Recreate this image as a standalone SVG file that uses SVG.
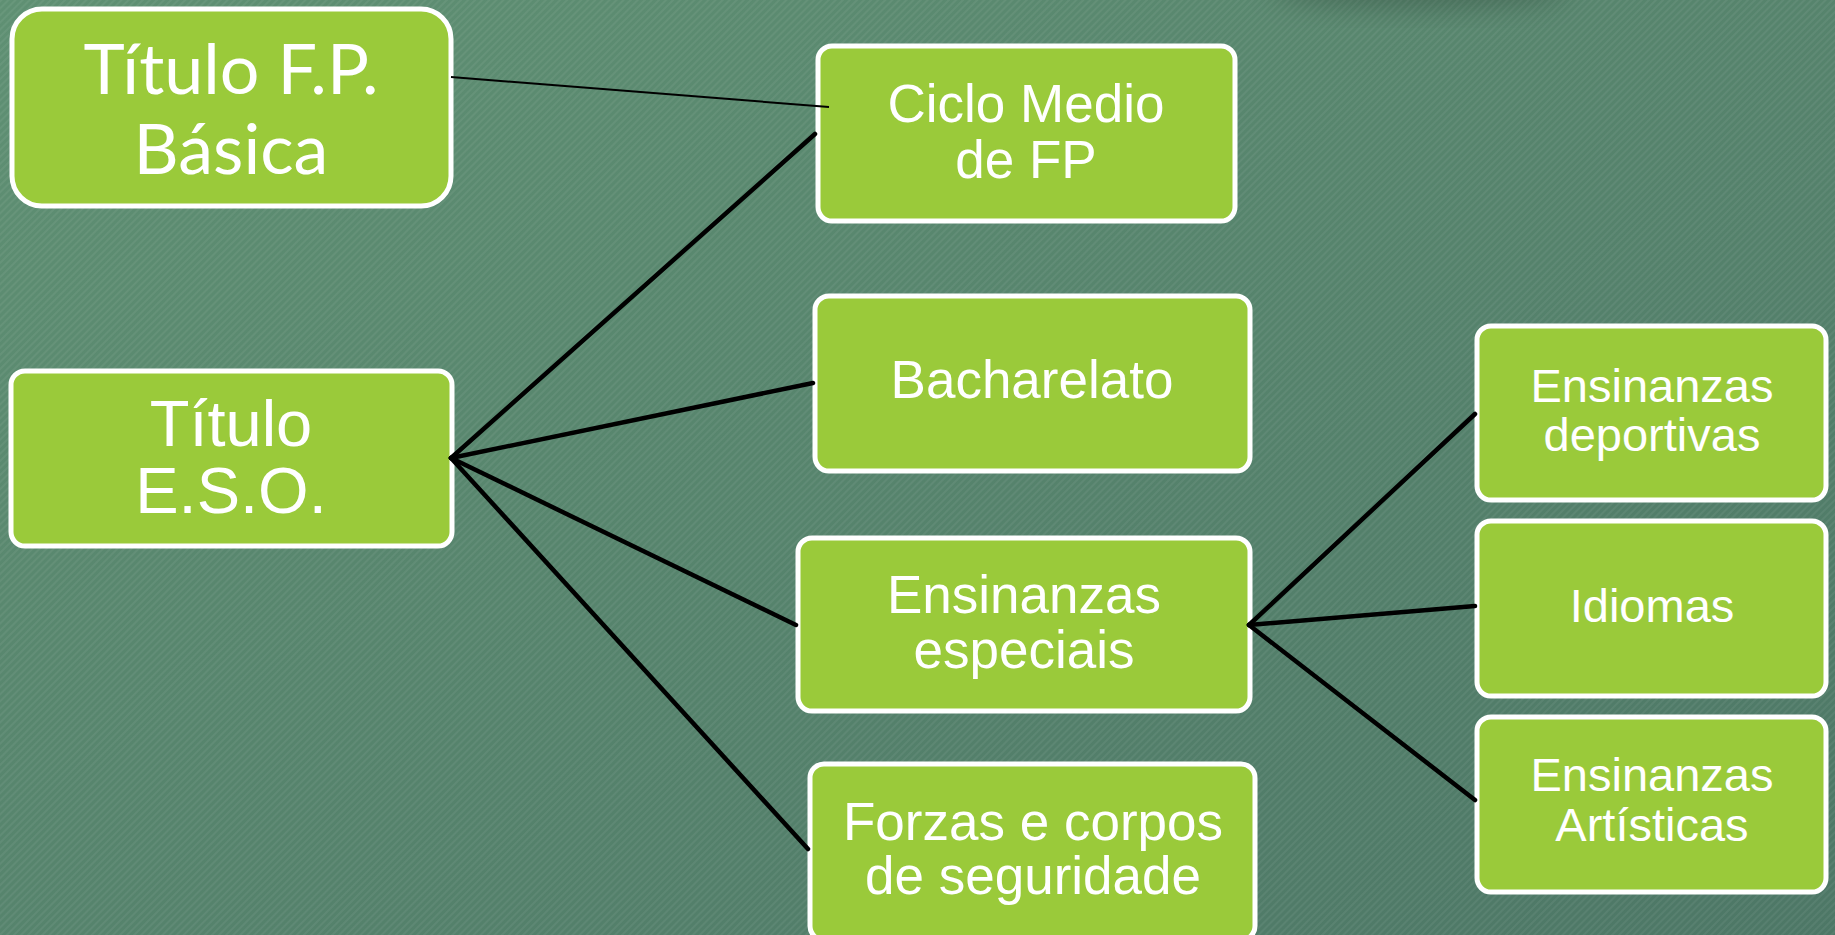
<svg xmlns="http://www.w3.org/2000/svg" width="1835" height="935" viewBox="0 0 1835 935">
<defs>
<linearGradient id="bg" x1="0" y1="0" x2="1" y2="1">
<stop offset="0" stop-color="#5f9073"/>
<stop offset="1" stop-color="#4d7766"/>
</linearGradient>
<pattern id="stripes" width="5" height="5" patternUnits="userSpaceOnUse" patternTransform="rotate(45)">
<rect x="0" y="0" width="2" height="5" fill="#ffffff" fill-opacity="0.06"/>
</pattern>
<filter id="blur" x="-50%" y="-50%" width="200%" height="200%">
<feGaussianBlur stdDeviation="14"/>
</filter>
<style>
.box{fill:#9aca3a;stroke:#ffffff;stroke-width:5}
.t{fill:#ffffff;font-family:"Liberation Sans",Arial,sans-serif;text-anchor:middle}
.ta{fill:#ffffff;font-family:Lato,"Open Sans",sans-serif;font-weight:400;text-anchor:middle}
.c{stroke:#000000;stroke-width:4.5;fill:none;stroke-linecap:round}
.c2{stroke:#000000;stroke-width:2;fill:none}
</style>
</defs>
<rect x="0" y="0" width="1835" height="935" fill="url(#bg)"/>
<rect x="0" y="0" width="1835" height="935" fill="url(#stripes)"/>
<ellipse cx="1420" cy="-12" rx="150" ry="20" fill="#000000" fill-opacity="0.2" filter="url(#blur)"/>

<g id="node-fp-basica">
<rect class="box" x="12" y="9" width="439" height="197" rx="30" ry="30"/>
<text class="ta" x="231" y="94" font-size="70">Título F.P.</text>
<text class="ta" x="231" y="174" font-size="70">Básica</text>
</g>
<g id="node-eso">
<rect class="box" x="11" y="371" width="441" height="175" rx="14" ry="14"/>
<text class="t" x="231" y="446" font-size="65">Título</text>
<text class="t" x="231" y="513" font-size="65">E.S.O.</text>
</g>
<g id="node-ciclo-medio">
<rect class="box" x="818" y="46" width="417" height="175" rx="14" ry="14"/>
<text class="t" x="1026" y="122" font-size="53">Ciclo Medio</text>
<text class="t" x="1026" y="178" font-size="53">de FP</text>
</g>
<g id="node-bacharelato">
<rect class="box" x="815" y="296" width="435" height="175" rx="14" ry="14"/>
<text class="t" x="1032" y="398" font-size="53">Bacharelato</text>
</g>
<g id="node-especiais">
<rect class="box" x="798" y="538" width="452" height="173" rx="14" ry="14"/>
<text class="t" x="1024" y="613" font-size="53">Ensinanzas</text>
<text class="t" x="1024" y="668" font-size="53">especiais</text>
</g>
<g id="node-forzas">
<rect class="box" x="810" y="764" width="445" height="176" rx="14" ry="14"/>
<text class="t" x="1033" y="840" font-size="53">Forzas e corpos</text>
<text class="t" x="1033" y="894" font-size="53">de seguridade</text>
</g>
<g id="node-deportivas">
<rect class="box" x="1477" y="326" width="349" height="174" rx="14" ry="14"/>
<text class="t" x="1652" y="402" font-size="47">Ensinanzas</text>
<text class="t" x="1652" y="451" font-size="47">deportivas</text>
</g>
<g id="node-idiomas">
<rect class="box" x="1477" y="521" width="349" height="175" rx="14" ry="14"/>
<text class="t" x="1652" y="622" font-size="47">Idiomas</text>
</g>
<g id="node-artisticas">
<rect class="box" x="1477" y="717" width="349" height="175" rx="14" ry="14"/>
<text class="t" x="1652" y="791" font-size="47">Ensinanzas</text>
<text class="t" x="1652" y="841" font-size="47">Artísticas</text>
</g>

<g id="connectors">
<line class="c2" x1="451" y1="77" x2="829" y2="107"/>
<line class="c" x1="451" y1="458" x2="815" y2="134"/>
<line class="c" x1="451" y1="458" x2="813" y2="383"/>
<line class="c" x1="451" y1="458" x2="796" y2="625"/>
<line class="c" x1="451" y1="458" x2="808" y2="849"/>
<line class="c" x1="1249" y1="625" x2="1475" y2="414"/>
<line class="c" x1="1249" y1="625" x2="1475" y2="606"/>
<line class="c" x1="1249" y1="625" x2="1475" y2="800"/>
</g>
</svg>
